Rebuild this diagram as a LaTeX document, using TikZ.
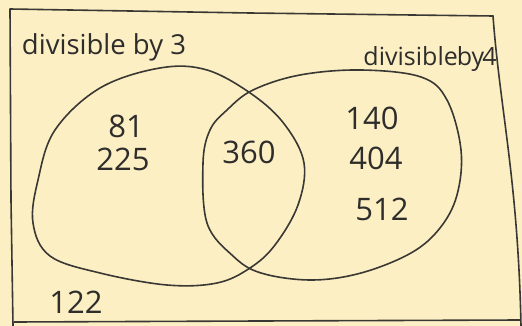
\documentclass[tikz,border=0pt]{standalone}
\usepackage{fontspec}
\setmainfont{Open Sans}
\begin{document}
\begin{tikzpicture}[x=1pt,y=-1pt,
  pencil/.style={draw=pencilc,line width=1.6pt,line join=round,line cap=round},
  num/.style={font=\fontsize{31}{33}\selectfont,text=inkc,inner sep=0pt},
  lab/.style={font=\fontsize{27.5}{29}\selectfont,text=inkc,inner sep=0pt}]
\definecolor{paperc}{HTML}{FCEFC3}
\definecolor{pencilc}{HTML}{3A3834}
\definecolor{inkc}{HTML}{2E2D2B}
\fill[paperc] (0,0) rectangle (522,326);
\useasboundingbox (0,0) rectangle (522,326);
% frame
\draw[pencil] (13,326) -- (11,200) -- (10,9) -- (250,13) -- (493,16);
\draw[pencil] (493,16) .. controls (500,110) and (518,180) .. (521,326);
\draw[pencil] (14,322) -- (260,321) -- (520,320);
% set divisible by 3
\draw[pencil] plot[smooth cycle,tension=0.6] coordinates {(160,68) (207,70) (253,95) (285,125) (304,163) (298,205) (275,245) (250,268) (217,283) (167,285) (100,273) (50,256) (33,223) (38,180) (55,130) (100,88)};
% set divisible by 4
\draw[pencil] plot[smooth cycle,tension=0.6] coordinates {(361,70) (421,77) (447,100) (461,150) (457,195) (440,228) (411,253) (361,273) (311,280) (261,273) (233,256) (207,223) (203,163) (210,130) (227,110) (253,90) (300,75)};
% labels
\node[lab] (l3) at (104,47) {divisible by 3};
\node[lab,font=\fontsize{25}{27}\selectfont] (l4) at (430,59) {divisible\kern-1pt by\kern-2pt4};
\node[num] (n81) at (126,126) {81};
\node[num] (n225) at (123,159) {225};
\node[num] (n360) at (249,152) {360};
\node[num] (n140) at (372,118) {140};
\node[num] (n404) at (376,158) {404};
\node[num] (n512) at (382,209) {512};
\node[num] (n122) at (76,302) {122};
\end{tikzpicture}
\end{document}
